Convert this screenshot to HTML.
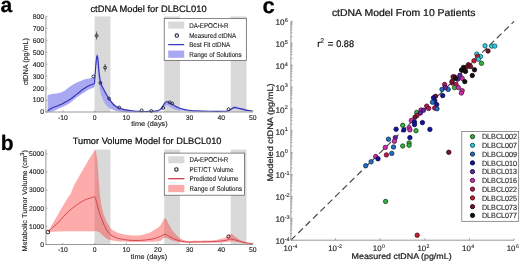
<!DOCTYPE html><html><head><meta charset="utf-8"><style>html,body{margin:0;padding:0;background:#fff;width:520px;height:261px;overflow:hidden}svg{display:block;will-change:transform;filter:blur(0.35px)}text{font-family:"Liberation Sans",sans-serif;paint-order:stroke;text-rendering:geometricPrecision}</style></head><body><svg width="520" height="261" viewBox="0 0 520 261" font-family="Liberation Sans, sans-serif"><rect x="94.60" y="16.40" width="15.83" height="95.60" fill="#d9d9d9" />
<rect x="164.23" y="16.40" width="15.83" height="95.60" fill="#d9d9d9" />
<rect x="230.69" y="16.40" width="15.83" height="95.60" fill="#d9d9d9" />
<path d="M47.60,95.30 C48.33,95.10 50.60,94.40 52.00,94.10 C53.40,93.80 54.67,93.72 56.00,93.50 C57.33,93.28 58.67,93.22 60.00,92.80 C61.33,92.38 62.83,91.67 64.00,91.00 C65.17,90.33 66.00,89.55 67.00,88.80 C68.00,88.05 68.83,87.30 70.00,86.50 C71.17,85.70 72.67,84.73 74.00,84.00 C75.33,83.27 76.67,82.70 78.00,82.10 C79.33,81.50 80.83,80.87 82.00,80.40 C83.17,79.93 83.67,79.67 85.00,79.30 C86.33,78.93 88.40,78.50 90.00,78.20 C91.60,77.90 93.83,77.62 94.60,77.50 L94.60,87.20 C93.83,87.50 91.60,88.22 90.00,89.00 C88.40,89.78 87.00,90.65 85.00,91.90 C83.00,93.15 80.50,94.67 78.00,96.50 C75.50,98.33 72.33,101.28 70.00,102.90 C67.67,104.52 65.67,105.35 64.00,106.20 C62.33,107.05 61.50,107.28 60.00,108.00 C58.50,108.72 56.33,109.92 55.00,110.50 C53.67,111.08 53.23,111.28 52.00,111.50 C50.77,111.72 48.33,111.75 47.60,111.80 Z" fill="#a9a9f2"/>
<path d="M94.60,84.00 C94.72,81.00 94.98,70.75 95.30,66.00 C95.62,61.25 96.17,57.53 96.50,55.50 C96.83,53.47 97.00,53.55 97.30,53.80 C97.60,54.05 98.02,55.47 98.30,57.00 C98.58,58.53 98.78,60.83 99.00,63.00 C99.22,65.17 99.35,67.67 99.60,70.00 C99.85,72.33 100.17,74.92 100.50,77.00 C100.83,79.08 101.15,80.90 101.60,82.50 C102.05,84.10 102.60,85.30 103.20,86.60 C103.80,87.90 104.48,88.98 105.20,90.30 C105.92,91.62 106.73,93.18 107.50,94.50 C108.27,95.82 109.05,97.08 109.80,98.20 C110.55,99.32 111.22,100.23 112.00,101.20 C112.78,102.17 113.67,103.20 114.50,104.00 C115.33,104.80 116.08,105.40 117.00,106.00 C117.92,106.60 118.50,107.03 120.00,107.60 C121.50,108.17 123.67,108.88 126.00,109.40 C128.33,109.92 131.33,110.38 134.00,110.70 C136.67,111.02 139.00,111.17 142.00,111.30 C145.00,111.43 149.33,111.50 152.00,111.50 C154.67,111.50 157.00,111.33 158.00,111.30 L158.00,112.30 C156.67,112.30 153.00,112.30 150.00,112.30 C147.00,112.30 143.33,112.30 140.00,112.30 C136.67,112.30 133.00,112.35 130.00,112.30 C127.00,112.25 124.33,112.22 122.00,112.00 C119.67,111.78 117.83,111.50 116.00,111.00 C114.17,110.50 112.50,109.83 111.00,109.00 C109.50,108.17 108.17,107.17 107.00,106.00 C105.83,104.83 104.92,103.67 104.00,102.00 C103.08,100.33 102.23,98.33 101.50,96.00 C100.77,93.67 100.13,91.00 99.60,88.00 C99.07,85.00 98.65,81.33 98.30,78.00 C97.95,74.67 97.75,70.50 97.50,68.00 C97.25,65.50 97.05,62.67 96.80,63.00 C96.55,63.33 96.25,67.33 96.00,70.00 C95.75,72.67 95.53,76.00 95.30,79.00 C95.07,82.00 94.72,86.50 94.60,88.00 Z" fill="#a9a9f2"/>
<path d="M155.00,111.00 C155.50,110.90 157.07,110.75 158.00,110.40 C158.93,110.05 159.85,109.63 160.60,108.90 C161.35,108.17 161.85,107.02 162.50,106.00 C163.15,104.98 163.78,103.65 164.50,102.80 C165.22,101.95 166.05,101.08 166.80,100.90 C167.55,100.72 168.13,101.28 169.00,101.70 C169.87,102.12 171.00,102.80 172.00,103.40 C173.00,104.00 174.00,104.72 175.00,105.30 C176.00,105.88 176.88,106.40 178.00,106.90 C179.12,107.40 179.95,107.80 181.70,108.30 C183.45,108.80 186.28,109.50 188.50,109.90 C190.72,110.30 193.92,110.57 195.00,110.70 L195.00,111.80 C193.92,111.73 190.72,111.57 188.50,111.40 C186.28,111.23 183.45,110.98 181.70,110.80 C179.95,110.62 179.12,110.52 178.00,110.30 C176.88,110.08 176.00,109.83 175.00,109.50 C174.00,109.17 173.00,108.80 172.00,108.30 C171.00,107.80 169.83,106.97 169.00,106.50 C168.17,106.03 167.67,105.53 167.00,105.50 C166.33,105.47 165.67,105.80 165.00,106.30 C164.33,106.80 163.83,107.75 163.00,108.50 C162.17,109.25 161.33,110.28 160.00,110.80 C158.67,111.32 155.83,111.47 155.00,111.60 Z" fill="#a9a9f2"/>
<path d="M226.00,110.80 C226.67,110.58 228.83,110.17 230.00,109.50 C231.17,108.83 232.08,107.38 233.00,106.80 C233.92,106.22 234.33,105.87 235.50,106.00 C236.67,106.13 238.25,107.02 240.00,107.60 C241.75,108.18 243.83,108.98 246.00,109.50 C248.17,110.02 251.83,110.50 253.00,110.70 L253.00,111.60 C251.83,111.48 248.17,111.22 246.00,110.90 C243.83,110.58 241.75,110.08 240.00,109.70 C238.25,109.32 236.67,108.68 235.50,108.60 C234.33,108.52 233.92,108.82 233.00,109.20 C232.08,109.58 231.17,110.53 230.00,110.90 C228.83,111.27 226.67,111.32 226.00,111.40 Z" fill="#a9a9f2"/>
<path d="M47.60,110.70 C48.33,110.25 50.60,108.70 52.00,108.00 C53.40,107.30 54.52,107.07 56.00,106.50 C57.48,105.93 59.40,105.30 60.90,104.60 C62.40,103.90 63.48,103.15 65.00,102.30 C66.52,101.45 68.50,100.47 70.00,99.50 C71.50,98.53 72.67,97.53 74.00,96.50 C75.33,95.47 76.67,94.38 78.00,93.30 C79.33,92.22 80.83,90.88 82.00,90.00 C83.17,89.12 83.67,88.78 85.00,88.00 C86.33,87.22 88.42,86.02 90.00,85.30 C91.58,84.58 93.75,83.97 94.50,83.70" fill="none" stroke="#3232b4" stroke-width="1.1"/>
<path d="M94.50,83.70 C94.62,81.92 94.92,76.78 95.20,73.00 C95.48,69.22 95.88,63.87 96.20,61.00 C96.52,58.13 96.83,56.22 97.10,55.80 C97.37,55.38 97.60,57.13 97.80,58.50 C98.00,59.87 98.13,62.08 98.30,64.00 C98.47,65.92 98.58,67.83 98.80,70.00 C99.02,72.17 99.30,74.92 99.60,77.00 C99.90,79.08 100.17,80.87 100.60,82.50 C101.03,84.13 101.58,85.42 102.20,86.80 C102.82,88.18 103.58,89.47 104.30,90.80 C105.02,92.13 105.75,93.52 106.50,94.80 C107.25,96.08 108.05,97.35 108.80,98.50 C109.55,99.65 110.23,100.70 111.00,101.70 C111.77,102.70 112.65,103.75 113.40,104.50 C114.15,105.25 114.73,105.65 115.50,106.20 C116.27,106.75 116.58,107.23 118.00,107.80 C119.42,108.37 121.67,109.10 124.00,109.60 C126.33,110.10 129.33,110.50 132.00,110.80 C134.67,111.10 137.00,111.30 140.00,111.40 C143.00,111.50 147.50,111.45 150.00,111.40 C152.50,111.35 153.67,111.23 155.00,111.10 C156.33,110.97 157.07,110.92 158.00,110.60 C158.93,110.28 159.85,109.88 160.60,109.20 C161.35,108.52 161.85,107.48 162.50,106.50 C163.15,105.52 163.78,104.10 164.50,103.30 C165.22,102.50 166.05,101.85 166.80,101.70 C167.55,101.55 168.13,102.00 169.00,102.40 C169.87,102.80 171.00,103.52 172.00,104.10 C173.00,104.68 174.00,105.35 175.00,105.90 C176.00,106.45 176.88,106.93 178.00,107.40 C179.12,107.88 180.53,108.38 181.70,108.75 C182.87,109.12 183.87,109.36 185.00,109.60 C186.13,109.84 186.67,109.98 188.50,110.20 C190.33,110.42 192.42,110.72 196.00,110.90 C199.58,111.08 205.00,111.25 210.00,111.30 C215.00,111.35 222.83,111.32 226.00,111.20 C229.17,111.08 228.00,111.03 229.00,110.60 C230.00,110.17 231.12,109.10 232.00,108.60 C232.88,108.10 233.30,107.67 234.30,107.60 C235.30,107.53 236.22,107.82 238.00,108.20 C239.78,108.58 242.67,109.43 245.00,109.90 C247.33,110.37 250.83,110.82 252.00,111.00" fill="none" stroke="#3232b4" stroke-width="1.1"/>
<circle cx="93.30" cy="76.50" r="1.45" fill="none" stroke="#223" stroke-width="0.9"/>
<line x1="96.60" y1="31.50" x2="96.60" y2="39.60" stroke="#333" stroke-width="0.7" />
<circle cx="96.60" cy="35.70" r="1.45" fill="none" stroke="#223" stroke-width="0.9"/>
<circle cx="100.40" cy="82.90" r="1.45" fill="none" stroke="#223" stroke-width="0.9"/>
<line x1="105.10" y1="64.00" x2="105.10" y2="71.50" stroke="#333" stroke-width="0.7" />
<circle cx="105.10" cy="67.60" r="1.45" fill="none" stroke="#223" stroke-width="0.9"/>
<circle cx="109.00" cy="98.60" r="1.45" fill="none" stroke="#223" stroke-width="0.9"/>
<circle cx="119.20" cy="107.50" r="1.45" fill="none" stroke="#223" stroke-width="0.9"/>
<circle cx="141.70" cy="110.40" r="1.45" fill="none" stroke="#223" stroke-width="0.9"/>
<circle cx="151.30" cy="111.00" r="1.45" fill="none" stroke="#223" stroke-width="0.9"/>
<circle cx="163.20" cy="107.90" r="1.45" fill="none" stroke="#223" stroke-width="0.9"/>
<circle cx="169.70" cy="102.40" r="1.45" fill="none" stroke="#223" stroke-width="0.9"/>
<circle cx="172.20" cy="103.50" r="1.45" fill="none" stroke="#223" stroke-width="0.9"/>
<circle cx="228.60" cy="109.20" r="1.45" fill="none" stroke="#223" stroke-width="0.9"/>
<line x1="45.90" y1="16.40" x2="45.90" y2="112.50" stroke="#8c8c8c" stroke-width="0.9" />
<line x1="45.90" y1="112.00" x2="253.00" y2="112.00" stroke="#8c8c8c" stroke-width="0.9" />
<line x1="45.90" y1="112.00" x2="47.50" y2="112.00" stroke="#8c8c8c" stroke-width="0.7" />
<text x="44.00" y="114.40" font-size="6.8" fill="#222" stroke="#222" stroke-width="0.12" text-anchor="end">0</text>
<line x1="45.90" y1="100.05" x2="47.50" y2="100.05" stroke="#8c8c8c" stroke-width="0.7" />
<text x="44.00" y="102.45" font-size="6.8" fill="#222" stroke="#222" stroke-width="0.12" text-anchor="end">100</text>
<line x1="45.90" y1="88.10" x2="47.50" y2="88.10" stroke="#8c8c8c" stroke-width="0.7" />
<text x="44.00" y="90.50" font-size="6.8" fill="#222" stroke="#222" stroke-width="0.12" text-anchor="end">200</text>
<line x1="45.90" y1="76.15" x2="47.50" y2="76.15" stroke="#8c8c8c" stroke-width="0.7" />
<text x="44.00" y="78.55" font-size="6.8" fill="#222" stroke="#222" stroke-width="0.12" text-anchor="end">300</text>
<line x1="45.90" y1="64.20" x2="47.50" y2="64.20" stroke="#8c8c8c" stroke-width="0.7" />
<text x="44.00" y="66.60" font-size="6.8" fill="#222" stroke="#222" stroke-width="0.12" text-anchor="end">400</text>
<line x1="45.90" y1="52.25" x2="47.50" y2="52.25" stroke="#8c8c8c" stroke-width="0.7" />
<text x="44.00" y="54.65" font-size="6.8" fill="#222" stroke="#222" stroke-width="0.12" text-anchor="end">500</text>
<line x1="45.90" y1="40.30" x2="47.50" y2="40.30" stroke="#8c8c8c" stroke-width="0.7" />
<text x="44.00" y="42.70" font-size="6.8" fill="#222" stroke="#222" stroke-width="0.12" text-anchor="end">600</text>
<line x1="45.90" y1="28.35" x2="47.50" y2="28.35" stroke="#8c8c8c" stroke-width="0.7" />
<text x="44.00" y="30.75" font-size="6.8" fill="#222" stroke="#222" stroke-width="0.12" text-anchor="end">700</text>
<line x1="45.90" y1="16.40" x2="47.50" y2="16.40" stroke="#8c8c8c" stroke-width="0.7" />
<text x="44.00" y="18.80" font-size="6.8" fill="#222" stroke="#222" stroke-width="0.12" text-anchor="end">800</text>
<line x1="62.95" y1="112.00" x2="62.95" y2="110.40" stroke="#8c8c8c" stroke-width="0.7" />
<text x="62.95" y="120.10" font-size="6.8" fill="#222" stroke="#222" stroke-width="0.12" text-anchor="middle">-10</text>
<line x1="94.60" y1="112.00" x2="94.60" y2="110.40" stroke="#8c8c8c" stroke-width="0.7" />
<text x="94.60" y="120.10" font-size="6.8" fill="#222" stroke="#222" stroke-width="0.12" text-anchor="middle">0</text>
<line x1="126.25" y1="112.00" x2="126.25" y2="110.40" stroke="#8c8c8c" stroke-width="0.7" />
<text x="126.25" y="120.10" font-size="6.8" fill="#222" stroke="#222" stroke-width="0.12" text-anchor="middle">10</text>
<line x1="157.90" y1="112.00" x2="157.90" y2="110.40" stroke="#8c8c8c" stroke-width="0.7" />
<text x="157.90" y="120.10" font-size="6.8" fill="#222" stroke="#222" stroke-width="0.12" text-anchor="middle">20</text>
<line x1="189.55" y1="112.00" x2="189.55" y2="110.40" stroke="#8c8c8c" stroke-width="0.7" />
<text x="189.55" y="120.10" font-size="6.8" fill="#222" stroke="#222" stroke-width="0.12" text-anchor="middle">30</text>
<line x1="221.20" y1="112.00" x2="221.20" y2="110.40" stroke="#8c8c8c" stroke-width="0.7" />
<text x="221.20" y="120.10" font-size="6.8" fill="#222" stroke="#222" stroke-width="0.12" text-anchor="middle">40</text>
<line x1="252.85" y1="112.00" x2="252.85" y2="110.40" stroke="#8c8c8c" stroke-width="0.7" />
<text x="252.85" y="120.10" font-size="6.8" fill="#222" stroke="#222" stroke-width="0.12" text-anchor="middle">50</text>
<text x="131.30" y="126.40" font-size="6.8" fill="#222" stroke="#222" stroke-width="0.12" text-anchor="start" textLength="36.40" lengthAdjust="spacingAndGlyphs">time (days)</text>
<text x="27.90" y="85.30" font-size="7.2" fill="#222" stroke="#222" stroke-width="0.12" text-anchor="start" textLength="47.30" lengthAdjust="spacingAndGlyphs" transform="rotate(-90 27.90 85.30)">ctDNA (pg/mL)</text>
<text x="90.40" y="12.40" font-size="9.3" fill="#111" stroke="#111" stroke-width="0.22" text-anchor="start" textLength="116.20" lengthAdjust="spacingAndGlyphs">ctDNA Model for DLBCL010</text>
<text x="0.40" y="12.40" font-size="21" fill="#000" stroke="#000" stroke-width="0.22" text-anchor="start" font-weight="bold">a</text>
<rect x="164.20" y="18.40" width="82.10" height="42.10" fill="#fff" stroke="#555" stroke-width="0.7"/>
<rect x="168.20" y="21.60" width="16.00" height="7.00" fill="#d9d9d9" />
<circle cx="176.80" cy="35.60" r="1.7" fill="none" stroke="#224" stroke-width="1.05"/>
<line x1="168.20" y1="44.60" x2="184.20" y2="44.60" stroke="#3b3bc8" stroke-width="1.3" />
<rect x="168.20" y="50.60" width="16.00" height="7.20" fill="#a9a9f2" />
<text x="189.20" y="27.50" font-size="7.0" fill="#222" stroke="#222" stroke-width="0.12" text-anchor="start" textLength="39.20" lengthAdjust="spacingAndGlyphs">DA-EPOCH-R</text>
<text x="189.20" y="38.00" font-size="7.0" fill="#222" stroke="#222" stroke-width="0.12" text-anchor="start" textLength="47.00" lengthAdjust="spacingAndGlyphs">Measured ctDNA</text>
<text x="189.20" y="47.00" font-size="7.0" fill="#222" stroke="#222" stroke-width="0.12" text-anchor="start" textLength="40.90" lengthAdjust="spacingAndGlyphs">Best Fit ctDNA</text>
<text x="189.20" y="56.50" font-size="7.0" fill="#222" stroke="#222" stroke-width="0.12" text-anchor="start" textLength="52.50" lengthAdjust="spacingAndGlyphs">Range of Solutions</text>
<rect x="94.60" y="149.60" width="15.83" height="94.90" fill="#d9d9d9" />
<rect x="164.23" y="149.60" width="15.83" height="94.90" fill="#d9d9d9" />
<rect x="230.69" y="149.60" width="15.83" height="94.90" fill="#d9d9d9" />
<path d="M47.80,231.80 C49.50,228.92 54.73,220.03 58.00,214.50 C61.27,208.97 65.25,202.13 67.40,198.60 C69.55,195.07 69.82,195.43 70.90,193.30 C71.98,191.17 72.38,188.88 73.90,185.80 C75.42,182.72 77.82,178.65 80.00,174.80 C82.18,170.95 84.47,166.90 87.00,162.70 C89.53,158.50 93.83,151.78 95.20,149.60 L95.20,149.60 C95.55,151.33 96.70,154.93 97.30,160.00 C97.90,165.07 98.30,173.67 98.80,180.00 C99.30,186.33 99.68,193.00 100.30,198.00 C100.92,203.00 101.75,206.75 102.50,210.00 C103.25,213.25 103.97,215.25 104.80,217.50 C105.63,219.75 106.47,221.67 107.50,223.50 C108.53,225.33 109.75,227.18 111.00,228.50 C112.25,229.82 113.50,230.57 115.00,231.40 C116.50,232.23 117.50,232.85 120.00,233.50 C122.50,234.15 126.67,235.00 130.00,235.30 C133.33,235.60 137.17,235.58 140.00,235.30 C142.83,235.02 145.17,234.15 147.00,233.60 C148.83,233.05 149.67,232.67 151.00,232.00 C152.33,231.33 153.50,230.63 155.00,229.60 C156.50,228.57 158.33,227.70 160.00,225.80 C161.67,223.90 163.58,218.58 165.00,218.20 C166.42,217.82 167.33,221.58 168.50,223.50 C169.67,225.42 170.75,227.87 172.00,229.70 C173.25,231.53 174.67,233.07 176.00,234.50 C177.33,235.93 178.50,237.28 180.00,238.30 C181.50,239.32 183.33,240.15 185.00,240.60 C186.67,241.05 186.67,241.00 190.00,241.00 C193.33,241.00 200.83,240.77 205.00,240.60 C209.17,240.43 211.67,240.48 215.00,240.00 C218.33,239.52 222.33,238.73 225.00,237.70 C227.67,236.67 229.33,234.00 231.00,233.80 C232.67,233.60 233.50,235.47 235.00,236.50 C236.50,237.53 238.17,239.05 240.00,240.00 C241.83,240.95 243.92,241.65 246.00,242.20 C248.08,242.75 251.42,243.12 252.50,243.30 L252.50,244.30 C251.42,244.22 248.08,244.08 246.00,243.80 C243.92,243.52 242.00,242.97 240.00,242.60 C238.00,242.23 235.50,241.77 234.00,241.60 C232.50,241.43 232.50,241.48 231.00,241.60 C229.50,241.72 228.50,242.10 225.00,242.30 C221.50,242.50 215.83,242.72 210.00,242.80 C204.17,242.88 195.00,242.90 190.00,242.80 C185.00,242.70 183.00,242.60 180.00,242.20 C177.00,241.80 174.50,241.13 172.00,240.40 C169.50,239.67 167.00,237.70 165.00,237.80 C163.00,237.90 162.50,240.33 160.00,241.00 C157.50,241.67 153.33,241.65 150.00,241.80 C146.67,241.95 143.33,241.88 140.00,241.90 C136.67,241.92 133.33,241.95 130.00,241.90 C126.67,241.85 122.50,241.75 120.00,241.60 C117.50,241.45 116.67,241.27 115.00,241.00 C113.33,240.73 111.67,240.58 110.00,240.00 C108.33,239.42 106.50,238.58 105.00,237.50 C103.50,236.42 102.17,234.48 101.00,233.50 C99.83,232.52 98.97,231.98 98.00,231.60 C97.03,231.22 98.20,231.25 95.20,231.20 C92.20,231.15 85.87,231.27 80.00,231.30 C74.13,231.33 65.37,231.32 60.00,231.40 C54.63,231.48 49.83,231.73 47.80,231.80 Z" fill="rgba(250,60,60,0.43)"/>
<path d="M47.80,232.00 C48.07,231.75 48.37,231.45 49.40,230.50 C50.43,229.55 52.42,227.73 54.00,226.30 C55.58,224.87 57.32,223.52 58.90,221.90 C60.48,220.28 61.92,218.32 63.50,216.60 C65.08,214.88 66.87,213.03 68.40,211.60 C69.93,210.17 71.27,209.15 72.70,208.00 C74.13,206.85 75.57,205.72 77.00,204.70 C78.43,203.68 79.85,202.77 81.30,201.90 C82.75,201.03 84.17,200.15 85.70,199.50 C87.23,198.85 89.02,198.43 90.50,198.00 C91.98,197.57 93.68,196.57 94.60,196.90 C95.52,197.23 95.43,198.15 96.00,200.00 C96.57,201.85 97.25,205.33 98.00,208.00 C98.75,210.67 99.68,213.67 100.50,216.00 C101.32,218.33 101.98,219.83 102.90,222.00 C103.82,224.17 104.82,226.93 106.00,229.00 C107.18,231.07 108.50,233.03 110.00,234.40 C111.50,235.77 113.33,236.47 115.00,237.20 C116.67,237.93 117.50,238.28 120.00,238.80 C122.50,239.32 126.67,240.03 130.00,240.30 C133.33,240.57 136.67,240.55 140.00,240.40 C143.33,240.25 147.50,239.75 150.00,239.40 C152.50,239.05 153.25,238.80 155.00,238.30 C156.75,237.80 158.83,237.08 160.50,236.40 C162.17,235.72 163.75,234.30 165.00,234.20 C166.25,234.10 166.83,235.18 168.00,235.80 C169.17,236.42 170.50,237.20 172.00,237.90 C173.50,238.60 175.17,239.40 177.00,240.00 C178.83,240.60 180.83,241.17 183.00,241.50 C185.17,241.83 186.33,241.95 190.00,242.00 C193.67,242.05 200.83,241.88 205.00,241.80 C209.17,241.72 211.67,241.72 215.00,241.50 C218.33,241.28 222.33,240.92 225.00,240.50 C227.67,240.08 229.17,239.05 231.00,239.00 C232.83,238.95 234.00,239.67 236.00,240.20 C238.00,240.73 240.25,241.63 243.00,242.20 C245.75,242.77 250.92,243.37 252.50,243.60" fill="none" stroke="#c8323c" stroke-width="0.8"/>
<rect x="46.3" y="230.4" width="3.3" height="3.3" rx="0.7" fill="none" stroke="#222" stroke-width="0.95"/>
<circle cx="228.50" cy="236.50" r="1.6" fill="none" stroke="#222" stroke-width="0.95"/>
<line x1="45.90" y1="149.60" x2="45.90" y2="245.00" stroke="#8c8c8c" stroke-width="0.9" />
<line x1="45.90" y1="244.50" x2="253.00" y2="244.50" stroke="#8c8c8c" stroke-width="0.9" />
<line x1="45.90" y1="244.50" x2="47.50" y2="244.50" stroke="#8c8c8c" stroke-width="0.7" />
<text x="44.00" y="246.90" font-size="6.8" fill="#222" stroke="#222" stroke-width="0.12" text-anchor="end">0</text>
<line x1="45.90" y1="226.36" x2="47.50" y2="226.36" stroke="#8c8c8c" stroke-width="0.7" />
<text x="44.00" y="228.76" font-size="6.8" fill="#222" stroke="#222" stroke-width="0.12" text-anchor="end">1000</text>
<line x1="45.90" y1="208.22" x2="47.50" y2="208.22" stroke="#8c8c8c" stroke-width="0.7" />
<text x="44.00" y="210.62" font-size="6.8" fill="#222" stroke="#222" stroke-width="0.12" text-anchor="end">2000</text>
<line x1="45.90" y1="190.08" x2="47.50" y2="190.08" stroke="#8c8c8c" stroke-width="0.7" />
<text x="44.00" y="192.48" font-size="6.8" fill="#222" stroke="#222" stroke-width="0.12" text-anchor="end">3000</text>
<line x1="45.90" y1="171.94" x2="47.50" y2="171.94" stroke="#8c8c8c" stroke-width="0.7" />
<text x="44.00" y="174.34" font-size="6.8" fill="#222" stroke="#222" stroke-width="0.12" text-anchor="end">4000</text>
<line x1="45.90" y1="153.80" x2="47.50" y2="153.80" stroke="#8c8c8c" stroke-width="0.7" />
<text x="44.00" y="156.20" font-size="6.8" fill="#222" stroke="#222" stroke-width="0.12" text-anchor="end">5000</text>
<line x1="62.95" y1="244.50" x2="62.95" y2="242.90" stroke="#8c8c8c" stroke-width="0.7" />
<text x="62.95" y="252.40" font-size="6.8" fill="#222" stroke="#222" stroke-width="0.12" text-anchor="middle">-10</text>
<line x1="94.60" y1="244.50" x2="94.60" y2="242.90" stroke="#8c8c8c" stroke-width="0.7" />
<text x="94.60" y="252.40" font-size="6.8" fill="#222" stroke="#222" stroke-width="0.12" text-anchor="middle">0</text>
<line x1="126.25" y1="244.50" x2="126.25" y2="242.90" stroke="#8c8c8c" stroke-width="0.7" />
<text x="126.25" y="252.40" font-size="6.8" fill="#222" stroke="#222" stroke-width="0.12" text-anchor="middle">10</text>
<line x1="157.90" y1="244.50" x2="157.90" y2="242.90" stroke="#8c8c8c" stroke-width="0.7" />
<text x="157.90" y="252.40" font-size="6.8" fill="#222" stroke="#222" stroke-width="0.12" text-anchor="middle">20</text>
<line x1="189.55" y1="244.50" x2="189.55" y2="242.90" stroke="#8c8c8c" stroke-width="0.7" />
<text x="189.55" y="252.40" font-size="6.8" fill="#222" stroke="#222" stroke-width="0.12" text-anchor="middle">30</text>
<line x1="221.20" y1="244.50" x2="221.20" y2="242.90" stroke="#8c8c8c" stroke-width="0.7" />
<text x="221.20" y="252.40" font-size="6.8" fill="#222" stroke="#222" stroke-width="0.12" text-anchor="middle">40</text>
<line x1="252.85" y1="244.50" x2="252.85" y2="242.90" stroke="#8c8c8c" stroke-width="0.7" />
<text x="252.85" y="252.40" font-size="6.8" fill="#222" stroke="#222" stroke-width="0.12" text-anchor="middle">50</text>
<text x="130.80" y="258.60" font-size="6.8" fill="#222" stroke="#222" stroke-width="0.12" text-anchor="start" textLength="36.40" lengthAdjust="spacingAndGlyphs">time (days)</text>
<text x="27.20" y="251.60" font-size="7.0" fill="#222" stroke="#222" stroke-width="0.12" text-anchor="start" textLength="101.60" lengthAdjust="spacingAndGlyphs" transform="rotate(-90 27.20 251.60)">Metabolic Tumor Volume (cm<tspan dy="-3.6" font-size="5.8">3</tspan><tspan dy="3.6">)</tspan></text>
<text x="72.70" y="143.90" font-size="9.25" fill="#111" stroke="#111" stroke-width="0.22" text-anchor="start" textLength="148.80" lengthAdjust="spacingAndGlyphs">Tumor Volume Model for DLBCL010</text>
<text x="0.80" y="150.40" font-size="21" fill="#000" stroke="#000" stroke-width="0.22" text-anchor="start" font-weight="bold">b</text>
<rect x="164.30" y="153.10" width="80.10" height="42.10" fill="#fff" stroke="#555" stroke-width="0.7"/>
<rect x="168.20" y="156.20" width="16.20" height="7.10" fill="#d9d9d9" />
<circle cx="176.40" cy="169.50" r="1.7" fill="none" stroke="#222" stroke-width="1.1"/>
<line x1="168.20" y1="178.70" x2="184.40" y2="178.70" stroke="#d23a4c" stroke-width="1.3" />
<rect x="168.20" y="184.90" width="16.20" height="7.30" fill="#fbaaaa" />
<text x="189.60" y="162.30" font-size="7.0" fill="#222" stroke="#222" stroke-width="0.12" text-anchor="start" textLength="38.70" lengthAdjust="spacingAndGlyphs">DA-EPOCH-R</text>
<text x="189.60" y="171.70" font-size="7.0" fill="#222" stroke="#222" stroke-width="0.12" text-anchor="start" textLength="43.70" lengthAdjust="spacingAndGlyphs">PET/CT Volume</text>
<text x="189.60" y="181.10" font-size="7.0" fill="#222" stroke="#222" stroke-width="0.12" text-anchor="start" textLength="49.00" lengthAdjust="spacingAndGlyphs">Predicted Volume</text>
<text x="189.60" y="190.60" font-size="7.0" fill="#222" stroke="#222" stroke-width="0.12" text-anchor="start" textLength="52.40" lengthAdjust="spacingAndGlyphs">Range of Solutions</text>
<line x1="290.90" y1="240.20" x2="514.10" y2="21.30" stroke="#444" stroke-width="1.15" stroke-dasharray="6.5,3.8"/>
<text x="331.90" y="15.80" font-size="10" fill="#111" stroke="#111" stroke-width="0.22" text-anchor="start" textLength="143.50" lengthAdjust="spacingAndGlyphs">ctDNA Model From 10 Patients</text>
<text x="262.50" y="12.60" font-size="22" fill="#000" stroke="#000" stroke-width="0.22" text-anchor="start" font-weight="bold">c</text>
<text x="317.30" y="46.80" font-size="9.6" fill="#111" stroke="#111" stroke-width="0.22" text-anchor="start">r</text>
<text x="320.30" y="43.40" font-size="6.8" fill="#111" stroke="#111" stroke-width="0.12" text-anchor="start">2</text>
<text x="327.80" y="46.80" font-size="9.6" fill="#111" stroke="#111" stroke-width="0.22" text-anchor="start">=</text>
<text x="336.20" y="46.80" font-size="9.6" fill="#111" stroke="#111" stroke-width="0.22" text-anchor="start" textLength="17.80" lengthAdjust="spacingAndGlyphs">0.88</text>
<line x1="290.90" y1="21.30" x2="290.90" y2="240.20" stroke="#8c8c8c" stroke-width="0.9" />
<line x1="290.90" y1="240.20" x2="514.10" y2="240.20" stroke="#8c8c8c" stroke-width="0.9" />
<line x1="290.90" y1="240.20" x2="292.90" y2="240.20" stroke="#8c8c8c" stroke-width="0.7" />
<line x1="290.90" y1="240.20" x2="290.90" y2="238.20" stroke="#8c8c8c" stroke-width="0.7" />
<line x1="290.90" y1="233.61" x2="292.40" y2="233.61" stroke="#777" stroke-width="0.6" />
<line x1="290.90" y1="229.76" x2="292.40" y2="229.76" stroke="#777" stroke-width="0.6" />
<line x1="290.90" y1="227.02" x2="292.40" y2="227.02" stroke="#777" stroke-width="0.6" />
<line x1="290.90" y1="224.90" x2="292.40" y2="224.90" stroke="#777" stroke-width="0.6" />
<line x1="290.90" y1="223.17" x2="292.40" y2="223.17" stroke="#777" stroke-width="0.6" />
<line x1="290.90" y1="221.70" x2="292.40" y2="221.70" stroke="#777" stroke-width="0.6" />
<line x1="290.90" y1="220.43" x2="292.40" y2="220.43" stroke="#777" stroke-width="0.6" />
<line x1="290.90" y1="219.31" x2="292.40" y2="219.31" stroke="#777" stroke-width="0.6" />
<text x="284.5" y="244.10" font-size="8.2" fill="#222" stroke="#222" stroke-width="0.15" text-anchor="end">10</text>
<text x="284.7" y="240.70" font-size="5.5" fill="#222" stroke="#222" stroke-width="0.1">-4</text>
<line x1="290.90" y1="218.31" x2="292.90" y2="218.31" stroke="#8c8c8c" stroke-width="0.7" />
<line x1="290.90" y1="211.72" x2="292.40" y2="211.72" stroke="#777" stroke-width="0.6" />
<line x1="290.90" y1="207.87" x2="292.40" y2="207.87" stroke="#777" stroke-width="0.6" />
<line x1="290.90" y1="205.13" x2="292.40" y2="205.13" stroke="#777" stroke-width="0.6" />
<line x1="290.90" y1="203.01" x2="292.40" y2="203.01" stroke="#777" stroke-width="0.6" />
<line x1="290.90" y1="201.28" x2="292.40" y2="201.28" stroke="#777" stroke-width="0.6" />
<line x1="290.90" y1="199.81" x2="292.40" y2="199.81" stroke="#777" stroke-width="0.6" />
<line x1="290.90" y1="198.54" x2="292.40" y2="198.54" stroke="#777" stroke-width="0.6" />
<line x1="290.90" y1="197.42" x2="292.40" y2="197.42" stroke="#777" stroke-width="0.6" />
<text x="284.5" y="222.21" font-size="8.2" fill="#222" stroke="#222" stroke-width="0.15" text-anchor="end">10</text>
<text x="284.7" y="218.81" font-size="5.5" fill="#222" stroke="#222" stroke-width="0.1">-3</text>
<line x1="290.90" y1="196.42" x2="292.90" y2="196.42" stroke="#8c8c8c" stroke-width="0.7" />
<line x1="335.54" y1="240.20" x2="335.54" y2="238.20" stroke="#8c8c8c" stroke-width="0.7" />
<line x1="290.90" y1="189.83" x2="292.40" y2="189.83" stroke="#777" stroke-width="0.6" />
<line x1="290.90" y1="185.98" x2="292.40" y2="185.98" stroke="#777" stroke-width="0.6" />
<line x1="290.90" y1="183.24" x2="292.40" y2="183.24" stroke="#777" stroke-width="0.6" />
<line x1="290.90" y1="181.12" x2="292.40" y2="181.12" stroke="#777" stroke-width="0.6" />
<line x1="290.90" y1="179.39" x2="292.40" y2="179.39" stroke="#777" stroke-width="0.6" />
<line x1="290.90" y1="177.92" x2="292.40" y2="177.92" stroke="#777" stroke-width="0.6" />
<line x1="290.90" y1="176.65" x2="292.40" y2="176.65" stroke="#777" stroke-width="0.6" />
<line x1="290.90" y1="175.53" x2="292.40" y2="175.53" stroke="#777" stroke-width="0.6" />
<text x="284.5" y="200.32" font-size="8.2" fill="#222" stroke="#222" stroke-width="0.15" text-anchor="end">10</text>
<text x="284.7" y="196.92" font-size="5.5" fill="#222" stroke="#222" stroke-width="0.1">-2</text>
<line x1="290.90" y1="174.53" x2="292.90" y2="174.53" stroke="#8c8c8c" stroke-width="0.7" />
<line x1="290.90" y1="167.94" x2="292.40" y2="167.94" stroke="#777" stroke-width="0.6" />
<line x1="290.90" y1="164.09" x2="292.40" y2="164.09" stroke="#777" stroke-width="0.6" />
<line x1="290.90" y1="161.35" x2="292.40" y2="161.35" stroke="#777" stroke-width="0.6" />
<line x1="290.90" y1="159.23" x2="292.40" y2="159.23" stroke="#777" stroke-width="0.6" />
<line x1="290.90" y1="157.50" x2="292.40" y2="157.50" stroke="#777" stroke-width="0.6" />
<line x1="290.90" y1="156.03" x2="292.40" y2="156.03" stroke="#777" stroke-width="0.6" />
<line x1="290.90" y1="154.76" x2="292.40" y2="154.76" stroke="#777" stroke-width="0.6" />
<line x1="290.90" y1="153.64" x2="292.40" y2="153.64" stroke="#777" stroke-width="0.6" />
<text x="284.5" y="178.43" font-size="8.2" fill="#222" stroke="#222" stroke-width="0.15" text-anchor="end">10</text>
<text x="284.7" y="175.03" font-size="5.5" fill="#222" stroke="#222" stroke-width="0.1">-1</text>
<line x1="290.90" y1="152.64" x2="292.90" y2="152.64" stroke="#8c8c8c" stroke-width="0.7" />
<line x1="380.18" y1="240.20" x2="380.18" y2="238.20" stroke="#8c8c8c" stroke-width="0.7" />
<line x1="290.90" y1="146.05" x2="292.40" y2="146.05" stroke="#777" stroke-width="0.6" />
<line x1="290.90" y1="142.20" x2="292.40" y2="142.20" stroke="#777" stroke-width="0.6" />
<line x1="290.90" y1="139.46" x2="292.40" y2="139.46" stroke="#777" stroke-width="0.6" />
<line x1="290.90" y1="137.34" x2="292.40" y2="137.34" stroke="#777" stroke-width="0.6" />
<line x1="290.90" y1="135.61" x2="292.40" y2="135.61" stroke="#777" stroke-width="0.6" />
<line x1="290.90" y1="134.14" x2="292.40" y2="134.14" stroke="#777" stroke-width="0.6" />
<line x1="290.90" y1="132.87" x2="292.40" y2="132.87" stroke="#777" stroke-width="0.6" />
<line x1="290.90" y1="131.75" x2="292.40" y2="131.75" stroke="#777" stroke-width="0.6" />
<text x="284.5" y="156.54" font-size="8.2" fill="#222" stroke="#222" stroke-width="0.15" text-anchor="end">10</text>
<text x="284.7" y="153.14" font-size="5.5" fill="#222" stroke="#222" stroke-width="0.1">0</text>
<line x1="290.90" y1="130.75" x2="292.90" y2="130.75" stroke="#8c8c8c" stroke-width="0.7" />
<line x1="290.90" y1="124.16" x2="292.40" y2="124.16" stroke="#777" stroke-width="0.6" />
<line x1="290.90" y1="120.31" x2="292.40" y2="120.31" stroke="#777" stroke-width="0.6" />
<line x1="290.90" y1="117.57" x2="292.40" y2="117.57" stroke="#777" stroke-width="0.6" />
<line x1="290.90" y1="115.45" x2="292.40" y2="115.45" stroke="#777" stroke-width="0.6" />
<line x1="290.90" y1="113.72" x2="292.40" y2="113.72" stroke="#777" stroke-width="0.6" />
<line x1="290.90" y1="112.25" x2="292.40" y2="112.25" stroke="#777" stroke-width="0.6" />
<line x1="290.90" y1="110.98" x2="292.40" y2="110.98" stroke="#777" stroke-width="0.6" />
<line x1="290.90" y1="109.86" x2="292.40" y2="109.86" stroke="#777" stroke-width="0.6" />
<text x="284.5" y="134.65" font-size="8.2" fill="#222" stroke="#222" stroke-width="0.15" text-anchor="end">10</text>
<text x="284.7" y="131.25" font-size="5.5" fill="#222" stroke="#222" stroke-width="0.1">1</text>
<line x1="290.90" y1="108.86" x2="292.90" y2="108.86" stroke="#8c8c8c" stroke-width="0.7" />
<line x1="424.82" y1="240.20" x2="424.82" y2="238.20" stroke="#8c8c8c" stroke-width="0.7" />
<line x1="290.90" y1="102.27" x2="292.40" y2="102.27" stroke="#777" stroke-width="0.6" />
<line x1="290.90" y1="98.42" x2="292.40" y2="98.42" stroke="#777" stroke-width="0.6" />
<line x1="290.90" y1="95.68" x2="292.40" y2="95.68" stroke="#777" stroke-width="0.6" />
<line x1="290.90" y1="93.56" x2="292.40" y2="93.56" stroke="#777" stroke-width="0.6" />
<line x1="290.90" y1="91.83" x2="292.40" y2="91.83" stroke="#777" stroke-width="0.6" />
<line x1="290.90" y1="90.36" x2="292.40" y2="90.36" stroke="#777" stroke-width="0.6" />
<line x1="290.90" y1="89.09" x2="292.40" y2="89.09" stroke="#777" stroke-width="0.6" />
<line x1="290.90" y1="87.97" x2="292.40" y2="87.97" stroke="#777" stroke-width="0.6" />
<text x="284.5" y="112.76" font-size="8.2" fill="#222" stroke="#222" stroke-width="0.15" text-anchor="end">10</text>
<text x="284.7" y="109.36" font-size="5.5" fill="#222" stroke="#222" stroke-width="0.1">2</text>
<line x1="290.90" y1="86.97" x2="292.90" y2="86.97" stroke="#8c8c8c" stroke-width="0.7" />
<line x1="290.90" y1="80.38" x2="292.40" y2="80.38" stroke="#777" stroke-width="0.6" />
<line x1="290.90" y1="76.53" x2="292.40" y2="76.53" stroke="#777" stroke-width="0.6" />
<line x1="290.90" y1="73.79" x2="292.40" y2="73.79" stroke="#777" stroke-width="0.6" />
<line x1="290.90" y1="71.67" x2="292.40" y2="71.67" stroke="#777" stroke-width="0.6" />
<line x1="290.90" y1="69.94" x2="292.40" y2="69.94" stroke="#777" stroke-width="0.6" />
<line x1="290.90" y1="68.47" x2="292.40" y2="68.47" stroke="#777" stroke-width="0.6" />
<line x1="290.90" y1="67.20" x2="292.40" y2="67.20" stroke="#777" stroke-width="0.6" />
<line x1="290.90" y1="66.08" x2="292.40" y2="66.08" stroke="#777" stroke-width="0.6" />
<text x="284.5" y="90.87" font-size="8.2" fill="#222" stroke="#222" stroke-width="0.15" text-anchor="end">10</text>
<text x="284.7" y="87.47" font-size="5.5" fill="#222" stroke="#222" stroke-width="0.1">3</text>
<line x1="290.90" y1="65.08" x2="292.90" y2="65.08" stroke="#8c8c8c" stroke-width="0.7" />
<line x1="469.46" y1="240.20" x2="469.46" y2="238.20" stroke="#8c8c8c" stroke-width="0.7" />
<line x1="290.90" y1="58.49" x2="292.40" y2="58.49" stroke="#777" stroke-width="0.6" />
<line x1="290.90" y1="54.64" x2="292.40" y2="54.64" stroke="#777" stroke-width="0.6" />
<line x1="290.90" y1="51.90" x2="292.40" y2="51.90" stroke="#777" stroke-width="0.6" />
<line x1="290.90" y1="49.78" x2="292.40" y2="49.78" stroke="#777" stroke-width="0.6" />
<line x1="290.90" y1="48.05" x2="292.40" y2="48.05" stroke="#777" stroke-width="0.6" />
<line x1="290.90" y1="46.58" x2="292.40" y2="46.58" stroke="#777" stroke-width="0.6" />
<line x1="290.90" y1="45.31" x2="292.40" y2="45.31" stroke="#777" stroke-width="0.6" />
<line x1="290.90" y1="44.19" x2="292.40" y2="44.19" stroke="#777" stroke-width="0.6" />
<text x="284.5" y="68.98" font-size="8.2" fill="#222" stroke="#222" stroke-width="0.15" text-anchor="end">10</text>
<text x="284.7" y="65.58" font-size="5.5" fill="#222" stroke="#222" stroke-width="0.1">4</text>
<line x1="290.90" y1="43.19" x2="292.90" y2="43.19" stroke="#8c8c8c" stroke-width="0.7" />
<line x1="290.90" y1="36.60" x2="292.40" y2="36.60" stroke="#777" stroke-width="0.6" />
<line x1="290.90" y1="32.75" x2="292.40" y2="32.75" stroke="#777" stroke-width="0.6" />
<line x1="290.90" y1="30.01" x2="292.40" y2="30.01" stroke="#777" stroke-width="0.6" />
<line x1="290.90" y1="27.89" x2="292.40" y2="27.89" stroke="#777" stroke-width="0.6" />
<line x1="290.90" y1="26.16" x2="292.40" y2="26.16" stroke="#777" stroke-width="0.6" />
<line x1="290.90" y1="24.69" x2="292.40" y2="24.69" stroke="#777" stroke-width="0.6" />
<line x1="290.90" y1="23.42" x2="292.40" y2="23.42" stroke="#777" stroke-width="0.6" />
<line x1="290.90" y1="22.30" x2="292.40" y2="22.30" stroke="#777" stroke-width="0.6" />
<text x="284.5" y="47.09" font-size="8.2" fill="#222" stroke="#222" stroke-width="0.15" text-anchor="end">10</text>
<text x="284.7" y="43.69" font-size="5.5" fill="#222" stroke="#222" stroke-width="0.1">5</text>
<line x1="290.90" y1="21.30" x2="292.90" y2="21.30" stroke="#8c8c8c" stroke-width="0.7" />
<line x1="514.10" y1="240.20" x2="514.10" y2="238.20" stroke="#8c8c8c" stroke-width="0.7" />
<text x="284.5" y="25.20" font-size="8.2" fill="#222" stroke="#222" stroke-width="0.15" text-anchor="end">10</text>
<text x="284.7" y="21.80" font-size="5.5" fill="#222" stroke="#222" stroke-width="0.1">6</text>
<text x="292.30" y="251.4" font-size="7.9" fill="#222" stroke="#222" stroke-width="0.15" text-anchor="end">10</text>
<text x="292.70" y="248.0" font-size="5.2" fill="#222" stroke="#222" stroke-width="0.1">-4</text>
<text x="336.94" y="251.4" font-size="7.9" fill="#222" stroke="#222" stroke-width="0.15" text-anchor="end">10</text>
<text x="337.34" y="248.0" font-size="5.2" fill="#222" stroke="#222" stroke-width="0.1">-2</text>
<text x="381.58" y="251.4" font-size="7.9" fill="#222" stroke="#222" stroke-width="0.15" text-anchor="end">10</text>
<text x="381.98" y="248.0" font-size="5.2" fill="#222" stroke="#222" stroke-width="0.1">0</text>
<text x="426.22" y="251.4" font-size="7.9" fill="#222" stroke="#222" stroke-width="0.15" text-anchor="end">10</text>
<text x="426.62" y="248.0" font-size="5.2" fill="#222" stroke="#222" stroke-width="0.1">2</text>
<text x="470.86" y="251.4" font-size="7.9" fill="#222" stroke="#222" stroke-width="0.15" text-anchor="end">10</text>
<text x="471.26" y="248.0" font-size="5.2" fill="#222" stroke="#222" stroke-width="0.1">4</text>
<text x="515.50" y="251.4" font-size="7.9" fill="#222" stroke="#222" stroke-width="0.15" text-anchor="end">10</text>
<text x="515.90" y="248.0" font-size="5.2" fill="#222" stroke="#222" stroke-width="0.1">6</text>
<text x="351.60" y="258.80" font-size="8.2" fill="#222" stroke="#222" stroke-width="0.22" text-anchor="start" textLength="100.00" lengthAdjust="spacingAndGlyphs">Measured ctDNA (pg/mL)</text>
<text x="273.30" y="181.40" font-size="8.2" fill="#222" stroke="#222" stroke-width="0.22" text-anchor="start" textLength="98.00" lengthAdjust="spacingAndGlyphs" transform="rotate(-90 273.30 181.40)">Modeled ctDNA (pg/mL)</text>
<circle cx="485.00" cy="45.80" r="2.2" fill="#34cde0" stroke="#145259" stroke-width="0.8"/>
<circle cx="491.70" cy="46.10" r="2.2" fill="#34cde0" stroke="#145259" stroke-width="0.8"/>
<circle cx="494.80" cy="46.10" r="2.2" fill="#34cde0" stroke="#145259" stroke-width="0.8"/>
<circle cx="488.00" cy="51.00" r="2.2" fill="#7a1428" stroke="#300810" stroke-width="0.8"/>
<circle cx="476.80" cy="54.10" r="2.2" fill="#34cde0" stroke="#145259" stroke-width="0.8"/>
<circle cx="480.50" cy="56.50" r="2.2" fill="#34cde0" stroke="#145259" stroke-width="0.8"/>
<circle cx="477.50" cy="56.50" r="2.2" fill="#c81e34" stroke="#500c14" stroke-width="0.8"/>
<circle cx="478.40" cy="59.20" r="2.2" fill="#34cde0" stroke="#145259" stroke-width="0.8"/>
<circle cx="474.00" cy="60.80" r="2.2" fill="#c81e34" stroke="#500c14" stroke-width="0.8"/>
<circle cx="481.50" cy="63.30" r="2.2" fill="#36b040" stroke="#154619" stroke-width="0.8"/>
<circle cx="468.50" cy="64.70" r="2.2" fill="#7a1428" stroke="#300810" stroke-width="0.8"/>
<circle cx="466.50" cy="67.10" r="2.2" fill="#7a1428" stroke="#300810" stroke-width="0.8"/>
<circle cx="474.50" cy="69.80" r="2.2" fill="#111111" stroke="#060606" stroke-width="0.8"/>
<circle cx="461.50" cy="70.00" r="2.2" fill="#111111" stroke="#060606" stroke-width="0.8"/>
<circle cx="465.50" cy="71.40" r="2.2" fill="#111111" stroke="#060606" stroke-width="0.8"/>
<circle cx="472.30" cy="75.50" r="2.2" fill="#111111" stroke="#060606" stroke-width="0.8"/>
<circle cx="459.90" cy="75.30" r="2.2" fill="#6024a4" stroke="#260e41" stroke-width="0.8"/>
<circle cx="462.20" cy="78.40" r="2.2" fill="#cc30ac" stroke="#511344" stroke-width="0.8"/>
<circle cx="454.50" cy="76.90" r="2.2" fill="#bc1658" stroke="#4b0823" stroke-width="0.8"/>
<circle cx="457.60" cy="79.20" r="2.2" fill="#6024a4" stroke="#260e41" stroke-width="0.8"/>
<circle cx="453.10" cy="76.80" r="2.2" fill="#7a1428" stroke="#300810" stroke-width="0.8"/>
<circle cx="464.80" cy="81.60" r="2.2" fill="#111111" stroke="#060606" stroke-width="0.8"/>
<circle cx="452.20" cy="83.00" r="2.2" fill="#bc1658" stroke="#4b0823" stroke-width="0.8"/>
<circle cx="456.10" cy="84.50" r="2.2" fill="#bc1658" stroke="#4b0823" stroke-width="0.8"/>
<circle cx="454.50" cy="87.60" r="2.2" fill="#36b040" stroke="#154619" stroke-width="0.8"/>
<circle cx="458.40" cy="87.60" r="2.2" fill="#cc30ac" stroke="#511344" stroke-width="0.8"/>
<circle cx="462.20" cy="90.70" r="2.2" fill="#cc30ac" stroke="#511344" stroke-width="0.8"/>
<circle cx="461.40" cy="93.00" r="2.2" fill="#cc30ac" stroke="#511344" stroke-width="0.8"/>
<circle cx="444.60" cy="84.50" r="2.2" fill="#bc1658" stroke="#4b0823" stroke-width="0.8"/>
<circle cx="442.00" cy="89.40" r="2.2" fill="#2370c0" stroke="#0e2c4c" stroke-width="0.8"/>
<circle cx="448.20" cy="89.40" r="2.2" fill="#2370c0" stroke="#0e2c4c" stroke-width="0.8"/>
<circle cx="445.30" cy="87.60" r="2.2" fill="#6024a4" stroke="#260e41" stroke-width="0.8"/>
<circle cx="435.50" cy="96.30" r="2.2" fill="#7a1428" stroke="#300810" stroke-width="0.8"/>
<circle cx="433.50" cy="97.80" r="2.2" fill="#1414a0" stroke="#080840" stroke-width="0.8"/>
<circle cx="442.70" cy="95.60" r="2.2" fill="#1414a0" stroke="#080840" stroke-width="0.8"/>
<circle cx="434.80" cy="100.70" r="2.2" fill="#1414a0" stroke="#080840" stroke-width="0.8"/>
<circle cx="432.50" cy="102.20" r="2.2" fill="#2370c0" stroke="#0e2c4c" stroke-width="0.8"/>
<circle cx="436.70" cy="104.60" r="2.2" fill="#1414a0" stroke="#080840" stroke-width="0.8"/>
<circle cx="426.70" cy="106.10" r="2.2" fill="#bc1658" stroke="#4b0823" stroke-width="0.8"/>
<circle cx="428.60" cy="108.40" r="2.2" fill="#bc1658" stroke="#4b0823" stroke-width="0.8"/>
<circle cx="434.70" cy="108.00" r="2.2" fill="#bc1658" stroke="#4b0823" stroke-width="0.8"/>
<circle cx="437.00" cy="108.80" r="2.2" fill="#2370c0" stroke="#0e2c4c" stroke-width="0.8"/>
<circle cx="421.00" cy="110.00" r="2.2" fill="#cc30ac" stroke="#511344" stroke-width="0.8"/>
<circle cx="423.40" cy="110.30" r="2.2" fill="#6024a4" stroke="#260e41" stroke-width="0.8"/>
<circle cx="416.70" cy="112.40" r="2.2" fill="#36b040" stroke="#154619" stroke-width="0.8"/>
<circle cx="420.40" cy="113.00" r="2.2" fill="#6024a4" stroke="#260e41" stroke-width="0.8"/>
<circle cx="417.00" cy="115.50" r="2.2" fill="#bc1658" stroke="#4b0823" stroke-width="0.8"/>
<circle cx="415.00" cy="117.20" r="2.2" fill="#7a1428" stroke="#300810" stroke-width="0.8"/>
<circle cx="411.30" cy="120.50" r="2.2" fill="#cc30ac" stroke="#511344" stroke-width="0.8"/>
<circle cx="414.40" cy="122.00" r="2.2" fill="#1414a0" stroke="#080840" stroke-width="0.8"/>
<circle cx="422.40" cy="122.60" r="2.2" fill="#1414a0" stroke="#080840" stroke-width="0.8"/>
<circle cx="414.50" cy="124.60" r="2.2" fill="#1414a0" stroke="#080840" stroke-width="0.8"/>
<circle cx="402.70" cy="125.30" r="2.2" fill="#36b040" stroke="#154619" stroke-width="0.8"/>
<circle cx="396.10" cy="129.20" r="2.2" fill="#1414a0" stroke="#080840" stroke-width="0.8"/>
<circle cx="403.80" cy="129.90" r="2.2" fill="#1414a0" stroke="#080840" stroke-width="0.8"/>
<circle cx="409.10" cy="127.60" r="2.2" fill="#cc30ac" stroke="#511344" stroke-width="0.8"/>
<circle cx="409.90" cy="129.90" r="2.2" fill="#cc30ac" stroke="#511344" stroke-width="0.8"/>
<circle cx="416.00" cy="130.70" r="2.2" fill="#36b040" stroke="#154619" stroke-width="0.8"/>
<circle cx="429.90" cy="129.40" r="2.2" fill="#1414a0" stroke="#080840" stroke-width="0.8"/>
<circle cx="395.30" cy="137.60" r="2.2" fill="#6024a4" stroke="#260e41" stroke-width="0.8"/>
<circle cx="388.50" cy="139.20" r="2.2" fill="#2370c0" stroke="#0e2c4c" stroke-width="0.8"/>
<circle cx="394.40" cy="141.30" r="2.2" fill="#cc30ac" stroke="#511344" stroke-width="0.8"/>
<circle cx="409.90" cy="137.60" r="2.2" fill="#1414a0" stroke="#080840" stroke-width="0.8"/>
<circle cx="409.10" cy="143.00" r="2.2" fill="#36b040" stroke="#154619" stroke-width="0.8"/>
<circle cx="409.10" cy="145.30" r="2.2" fill="#36b040" stroke="#154619" stroke-width="0.8"/>
<circle cx="402.70" cy="146.00" r="2.2" fill="#36b040" stroke="#154619" stroke-width="0.8"/>
<circle cx="393.50" cy="147.00" r="2.2" fill="#2370c0" stroke="#0e2c4c" stroke-width="0.8"/>
<circle cx="385.30" cy="147.40" r="2.2" fill="#cc30ac" stroke="#511344" stroke-width="0.8"/>
<circle cx="391.80" cy="153.40" r="2.2" fill="#2370c0" stroke="#0e2c4c" stroke-width="0.8"/>
<circle cx="386.40" cy="154.90" r="2.2" fill="#bc1658" stroke="#4b0823" stroke-width="0.8"/>
<circle cx="375.70" cy="156.50" r="2.2" fill="#cc30ac" stroke="#511344" stroke-width="0.8"/>
<circle cx="378.00" cy="158.80" r="2.2" fill="#1414a0" stroke="#080840" stroke-width="0.8"/>
<circle cx="371.10" cy="161.80" r="2.2" fill="#2370c0" stroke="#0e2c4c" stroke-width="0.8"/>
<circle cx="365.70" cy="165.70" r="2.2" fill="#2370c0" stroke="#0e2c4c" stroke-width="0.8"/>
<circle cx="385.60" cy="201.40" r="2.2" fill="#36b040" stroke="#154619" stroke-width="0.8"/>
<circle cx="417.20" cy="235.20" r="2.2" fill="#c81e34" stroke="#500c14" stroke-width="0.8"/>
<circle cx="448.80" cy="152.30" r="2.2" fill="#7a1428" stroke="#300810" stroke-width="0.8"/>
<circle cx="463.50" cy="67.50" r="2.2" fill="#111111" stroke="#060606" stroke-width="0.8"/>
<circle cx="470.50" cy="66.50" r="2.2" fill="#7a1428" stroke="#300810" stroke-width="0.8"/>
<circle cx="455.50" cy="78.20" r="2.2" fill="#111111" stroke="#060606" stroke-width="0.8"/>
<circle cx="452.00" cy="81.50" r="2.2" fill="#7a1428" stroke="#300810" stroke-width="0.8"/>
<rect x="461.80" y="131.40" width="56.90" height="89.90" fill="#fff" stroke="#666" stroke-width="0.7"/>
<circle cx="472.50" cy="136.60" r="2.1" fill="#36b040" stroke="#154619" stroke-width="1.0"/>
<text x="481.90" y="139.45" font-size="7.6" fill="#222" stroke="#222" stroke-width="0.12" text-anchor="start" textLength="35.20" lengthAdjust="spacingAndGlyphs">DLBCL002</text>
<circle cx="472.50" cy="145.36" r="2.1" fill="#34cde0" stroke="#145259" stroke-width="1.0"/>
<text x="481.90" y="148.21" font-size="7.6" fill="#222" stroke="#222" stroke-width="0.12" text-anchor="start" textLength="35.20" lengthAdjust="spacingAndGlyphs">DLBCL007</text>
<circle cx="472.50" cy="154.12" r="2.1" fill="#2370c0" stroke="#0e2c4c" stroke-width="1.0"/>
<text x="481.90" y="156.97" font-size="7.6" fill="#222" stroke="#222" stroke-width="0.12" text-anchor="start" textLength="35.20" lengthAdjust="spacingAndGlyphs">DLBCL009</text>
<circle cx="472.50" cy="162.88" r="2.1" fill="#1414a0" stroke="#080840" stroke-width="1.0"/>
<text x="481.90" y="165.73" font-size="7.6" fill="#222" stroke="#222" stroke-width="0.12" text-anchor="start" textLength="35.20" lengthAdjust="spacingAndGlyphs">DLBCL010</text>
<circle cx="472.50" cy="171.64" r="2.1" fill="#6024a4" stroke="#260e41" stroke-width="1.0"/>
<text x="481.90" y="174.49" font-size="7.6" fill="#222" stroke="#222" stroke-width="0.12" text-anchor="start" textLength="35.20" lengthAdjust="spacingAndGlyphs">DLBCL013</text>
<circle cx="472.50" cy="180.40" r="2.1" fill="#cc30ac" stroke="#511344" stroke-width="1.0"/>
<text x="481.90" y="183.25" font-size="7.6" fill="#222" stroke="#222" stroke-width="0.12" text-anchor="start" textLength="35.20" lengthAdjust="spacingAndGlyphs">DLBCL016</text>
<circle cx="472.50" cy="189.16" r="2.1" fill="#bc1658" stroke="#4b0823" stroke-width="1.0"/>
<text x="481.90" y="192.01" font-size="7.6" fill="#222" stroke="#222" stroke-width="0.12" text-anchor="start" textLength="35.20" lengthAdjust="spacingAndGlyphs">DLBCL022</text>
<circle cx="472.50" cy="197.92" r="2.1" fill="#c81e34" stroke="#500c14" stroke-width="1.0"/>
<text x="481.90" y="200.77" font-size="7.6" fill="#222" stroke="#222" stroke-width="0.12" text-anchor="start" textLength="35.20" lengthAdjust="spacingAndGlyphs">DLBCL025</text>
<circle cx="472.50" cy="206.68" r="2.1" fill="#7a1428" stroke="#300810" stroke-width="1.0"/>
<text x="481.90" y="209.53" font-size="7.6" fill="#222" stroke="#222" stroke-width="0.12" text-anchor="start" textLength="35.20" lengthAdjust="spacingAndGlyphs">DLBCL073</text>
<circle cx="472.50" cy="215.44" r="2.1" fill="#111111" stroke="#060606" stroke-width="1.0"/>
<text x="481.90" y="218.29" font-size="7.6" fill="#222" stroke="#222" stroke-width="0.12" text-anchor="start" textLength="35.20" lengthAdjust="spacingAndGlyphs">DLBCL077</text></svg></body></html>
